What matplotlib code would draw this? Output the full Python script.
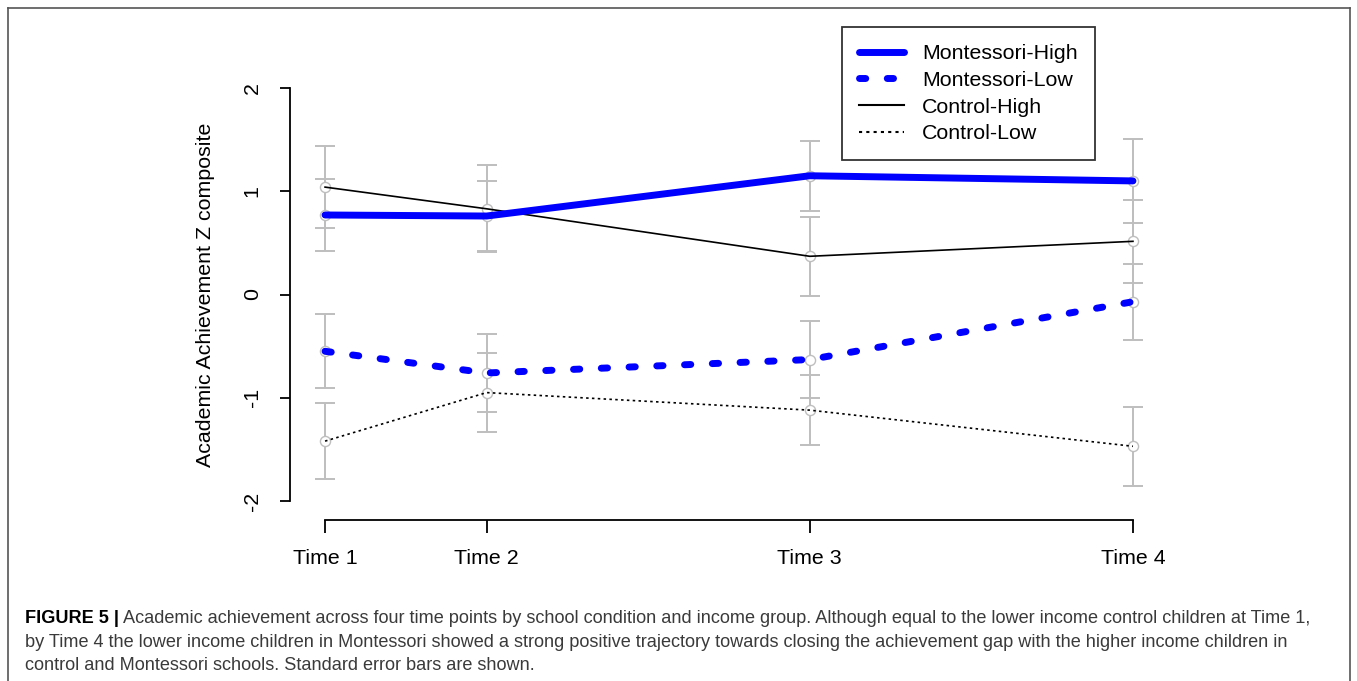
import numpy as np
import matplotlib.pyplot as plt
from matplotlib.lines import Line2D
from matplotlib.text import Annotation

# time points (spacing follows the original x positions)
times = [1, 2, 4, 6]
time_labels = ["Time 1", "Time 2", "Time 3", "Time 4"]

mont_high = [0.77, 0.76, 1.15, 1.10]
mont_high_se = [0.35, 0.34, 0.34, 0.41]
mont_low = [-0.55, -0.76, -0.63, -0.07]
mont_low_se = [0.36, 0.38, 0.37, 0.37]
ctrl_high = [1.04, 0.83, 0.37, 0.515]
ctrl_high_se = [0.40, 0.42, 0.38, 0.40]
ctrl_low = [-1.42, -0.95, -1.12, -1.47]
ctrl_low_se = [0.37, 0.38, 0.34, 0.38]

plt.rcParams['font.family'] = ['Liberation Sans', 'DejaVu Sans']

W, H = 1357, 681
fig = plt.figure(figsize=(W / 100, H / 100), dpi=100)

# plot region in pixels
x0, x1 = 289.5, 1168.5
y_top, y_bot = 69.4, 519.6
ax = fig.add_axes([x0 / W, 1 - y_bot / H, (x1 - x0) / W, (y_bot - y_top) / H])
ax.set_xlim(0.78, 6.22)
ax.set_ylim(-2.18, 2.18)

grey = "#bebebe"
blue = "#0000ff"
dash_ml = (0, (0.9, 3.1))
dot_cl = (0, (1.5, 2.0))

series = [
    (mont_high, mont_high_se, "Montessori-High"),
    (mont_low, mont_low_se, "Montessori-Low"),
    (ctrl_high, ctrl_high_se, "Control-High"),
    (ctrl_low, ctrl_low_se, "Control-Low"),
]
for vals, se, _ in series:
    ax.errorbar(times, vals, yerr=se, fmt='none', ecolor=grey, elinewidth=1.4,
                capsize=7.5, capthick=1.4, zorder=1)
    ax.plot(times, vals, 'o', ms=7.3, mfc='white', mec=grey, mew=1.0, zorder=2)

ax.plot(times, ctrl_high, color='black', lw=1.2, zorder=3)
ax.plot(times, ctrl_low, color='black', lw=1.2, linestyle=dot_cl, zorder=3)
ax.plot(times, mont_high, color=blue, lw=5, solid_capstyle='round', zorder=4)
ax.plot(times, mont_low, color=blue, lw=5, linestyle=dash_ml,
        dash_capstyle='round', zorder=4)

# R style axes
for s in ['top', 'right']:
    ax.spines[s].set_visible(False)
ax.spines['left'].set_bounds(-2, 2)
ax.spines['bottom'].set_bounds(1, 6)
ax.spines['left'].set_linewidth(1.3)
ax.spines['bottom'].set_linewidth(1.3)
ax.set_xticks(times)
ax.set_xticklabels(time_labels)
ax.set_yticks([-2, -1, 0, 1, 2])
ax.set_yticklabels(["-2", "-1", "0", "1", "2"], rotation=90, va='center')
ax.tick_params(axis='x', length=9, width=1.3, pad=12, labelsize=15.4)
ax.tick_params(axis='y', length=7, width=1.3, pad=13, labelsize=15.4)
ax.set_ylabel("Academic Achievement Z composite", fontsize=15.4, labelpad=20)

handles = [
    Line2D([], [], color=blue, lw=5, solid_capstyle='round'),
    Line2D([], [], color=blue, lw=5, linestyle=dash_ml, dash_capstyle='round'),
    Line2D([], [], color='black', lw=1.5),
    Line2D([], [], color='black', lw=1.5, linestyle=dot_cl),
]
leg = fig.legend(handles, [s[2] for s in series], loc='upper left',
                 bbox_to_anchor=(842 / W, 1 - 27 / H), fontsize=15.4,
                 frameon=True, fancybox=False, shadow=False, borderpad=0.8,
                 handlelength=2.1, handletextpad=0.85, labelspacing=0.36,
                 borderaxespad=0)
leg.get_frame().set_edgecolor('black')
leg.get_frame().set_linewidth(1.3)

# outer frame of the figure panel
fc = '#555555'
fig.add_artist(Line2D([7.5 / W, 7.5 / W], [0, 1 - 8 / H], color=fc, lw=1.2))
fig.add_artist(Line2D([7.5 / W, 1350 / W], [1 - 8 / H, 1 - 8 / H], color=fc, lw=1.2))
fig.add_artist(Line2D([1350 / W, 1350 / W], [0, 1 - 8 / H], color=fc, lw=1.2))

# caption
cap_size = 13.1
cap_col = '#3a3a3a'
bold = fig.text(25 / W, 1 - 623 / H, "FIGURE 5 |", fontsize=cap_size,
                fontweight='bold', color='black', va='baseline')
fig.add_artist(Annotation(
    " Academic achievement across four time points by school condition and income group. "
    "Although equal to the lower income control children at Time 1,",
    xy=(1, 0), xycoords=bold, va='bottom', ha='left', fontsize=cap_size, color=cap_col))
fig.text(25 / W, 1 - 647 / H,
         "by Time 4 the lower income children in Montessori showed a strong positive trajectory "
         "towards closing the achievement gap with the higher income children in",
         fontsize=cap_size, color=cap_col, va='baseline')
fig.text(25 / W, 1 - 670 / H,
         "control and Montessori schools. Standard error bars are shown.",
         fontsize=cap_size, color=cap_col, va='baseline')

fig.savefig("out.png", dpi=100)
